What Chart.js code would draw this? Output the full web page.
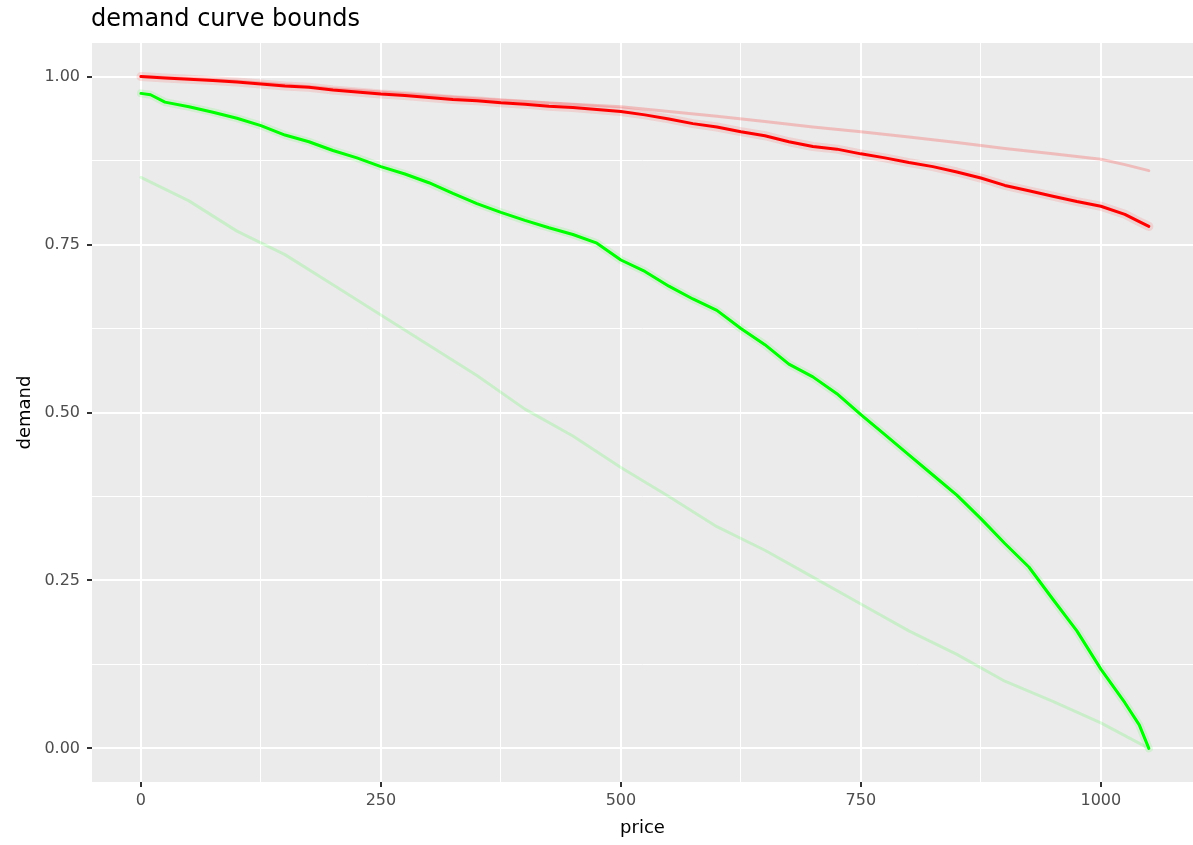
<!DOCTYPE html>
<html>
<head>
<meta charset="utf-8">
<script src="https://cdn.jsdelivr.net/npm/chart.js@4.4.1/dist/chart.umd.min.js"></script>
<style>
  html, body { margin: 0; padding: 0; background: #fff; }
  #wrap { width: 1193px; height: 845px; }
</style>
</head>
<body>
<div id="wrap"><canvas id="chart" width="1193" height="845"></canvas></div>
<script>
// demand curves (price -> demand)
var redPrice = [0, 25, 50, 75, 100, 125, 150, 175, 200, 225, 250, 275, 300, 325, 350, 375, 400, 425, 450, 475, 500,
    525, 550, 575, 600, 625, 650, 675, 700, 725, 750, 775, 800, 825, 850, 875, 900, 925, 950, 975, 1000, 1025, 1040, 1050];
var redDemand = [1.000, 0.998, 0.996, 0.994, 0.992, 0.989, 0.986, 0.984, 0.980, 0.977, 0.974, 0.972, 0.969, 0.966, 0.964,
    0.961, 0.959, 0.956, 0.954, 0.951, 0.948, 0.943, 0.937, 0.930, 0.925, 0.918, 0.912, 0.903, 0.896, 0.892, 0.885,
    0.879, 0.872, 0.866, 0.858, 0.849, 0.838, 0.830, 0.822, 0.814, 0.807, 0.795, 0.784, 0.777];

var paleRedPrice = [0, 50, 100, 150, 200, 250, 300, 350, 400, 450, 500, 550, 600, 650, 700, 750, 800, 850, 900, 950, 1000, 1025, 1050];
var paleRedDemand = [1.000, 0.997, 0.993, 0.988, 0.982, 0.977, 0.972, 0.967, 0.963, 0.959, 0.955, 0.948, 0.941, 0.933,
    0.925, 0.918, 0.910, 0.902, 0.893, 0.885, 0.877, 0.869, 0.860];

var greenPrice = [0, 10, 25, 50, 75, 100, 125, 150, 175, 200, 225, 250, 275, 300, 325, 350, 375, 400, 425, 450, 475, 500,
    525, 550, 575, 600, 625, 650, 675, 700, 725, 750, 775, 800, 825, 850, 875, 900, 925, 950, 975, 1000, 1025, 1040, 1050];
var greenDemand = [0.975, 0.973, 0.962, 0.955, 0.947, 0.938, 0.927, 0.913, 0.903, 0.890, 0.879, 0.866, 0.855, 0.842,
    0.826, 0.811, 0.798, 0.786, 0.775, 0.765, 0.752, 0.727, 0.710, 0.688, 0.669, 0.652, 0.625, 0.601, 0.572, 0.553,
    0.528, 0.497, 0.467, 0.437, 0.407, 0.377, 0.342, 0.305, 0.270, 0.222, 0.175, 0.118, 0.068, 0.035, 0.000];

var paleGreenPrice = [0, 50, 100, 150, 200, 250, 300, 350, 400, 450, 500, 550, 600, 650, 700, 750, 800, 850, 900, 950, 1000, 1050];
var paleGreenDemand = [0.850, 0.815, 0.770, 0.735, 0.690, 0.645, 0.600, 0.555, 0.505, 0.465, 0.418, 0.375, 0.330,
    0.295, 0.255, 0.215, 0.175, 0.140, 0.100, 0.070, 0.038, 0.000];

// axis ticks
var xMajor = [0, 250, 500, 750, 1000];
var xMinor = [125, 375, 625, 875];
var yMajor = [0, 0.25, 0.5, 0.75, 1];
var yMinor = [0.125, 0.375, 0.625, 0.875];
var yLabels = ["0.00", "0.25", "0.50", "0.75", "1.00"];

var FONT = "'DejaVu Sans', Verdana, sans-serif";

function pts(xs, ys) {
    return xs.map(function (x, i) { return { x: x, y: ys[i] }; });
}

function setTicks(majors, minors) {
    return function (scale) {
        var all = majors.concat(minors).sort(function (a, b) { return a - b; });
        scale.ticks = all.map(function (v) { return { value: v }; });
    };
}

function isMajor(majors, v) {
    return majors.indexOf(v) !== -1;
}

// grey ggplot-like panel + title
var panelBg = {
    id: "panelBg",
    beforeDraw: function (chart) {
        var a = chart.chartArea, ctx = chart.ctx;
        ctx.save();
        ctx.fillStyle = "#EBEBEB";
        ctx.fillRect(a.left, a.top, a.right - a.left, a.bottom - a.top);
        ctx.restore();
    },
    afterDraw: function (chart) {
        var ctx = chart.ctx;
        ctx.save();
        ctx.fillStyle = "#000000";
        ctx.font = "24px " + FONT;
        ctx.textBaseline = "alphabetic";
        ctx.fillText("demand curve bounds", chart.chartArea.left - 1, 26);
        ctx.restore();
    }
};

var ctx = document.getElementById("chart").getContext("2d");
var chart = new Chart(ctx, {
    type: "line",
    data: {
        datasets: [
            {
                data: pts(redPrice, redDemand),
                borderColor: "#FF0000",
                borderWidth: 3,
                order: 1
            },
            {
                data: pts(redPrice, redDemand),
                borderColor: "rgba(255, 60, 60, 0.15)",
                borderWidth: 9,
                order: 5
            },
            {
                data: pts(greenPrice, greenDemand),
                borderColor: "#00FF00",
                borderWidth: 3,
                order: 2
            },
            {
                data: pts(greenPrice, greenDemand),
                borderColor: "rgba(60, 255, 60, 0.15)",
                borderWidth: 8,
                order: 6
            },
            {
                data: pts(paleRedPrice, paleRedDemand),
                borderColor: "rgba(255, 0, 0, 0.2)",
                borderWidth: 3,
                order: 3
            },
            {
                data: pts(paleGreenPrice, paleGreenDemand),
                borderColor: "rgba(0, 255, 0, 0.14)",
                borderWidth: 3,
                order: 4
            }
        ]
    },
    options: {
        responsive: false,
        animation: false,
        layout: { padding: { top: 43, left: 0, right: 0, bottom: 0 } },
        elements: {
            point: { radius: 0 },
            line: { tension: 0, borderCapStyle: "round", borderJoinStyle: "round" }
        },
        plugins: {
            legend: { display: false },
            title: { display: false },
            tooltip: { enabled: false }
        },
        scales: {
            x: {
                type: "linear",
                min: -51,
                max: 1096,
                afterBuildTicks: setTicks(xMajor, xMinor),
                afterFit: function (scale) { scale.height = 63; },
                border: { display: false },
                grid: {
                    color: "#FFFFFF",
                    lineWidth: function (c) { return isMajor(xMajor, c.tick.value) ? 2 : 1; },
                    tickColor: function (c) { return isMajor(xMajor, c.tick.value) ? "#333333" : "rgba(0,0,0,0)"; },
                    tickLength: 5,
                    drawTicks: true
                },
                ticks: {
                    autoSkip: false,
                    maxRotation: 0,
                    padding: 4,
                    color: "#4D4D4D",
                    font: { family: FONT, size: 16 },
                    callback: function (v) { return isMajor(xMajor, v) ? String(v) : ""; }
                },
                title: {
                    display: true,
                    text: "price",
                    color: "#000000",
                    font: { family: FONT, size: 18 },
                    padding: { top: 0, bottom: 6 }
                }
            },
            y: {
                type: "linear",
                min: -0.05,
                max: 1.05,
                afterBuildTicks: setTicks(yMajor, yMinor),
                afterFit: function (scale) { scale.width = 92; },
                border: { display: false },
                grid: {
                    color: "#FFFFFF",
                    lineWidth: function (c) { return isMajor(yMajor, c.tick.value) ? 2 : 1; },
                    tickColor: function (c) { return isMajor(yMajor, c.tick.value) ? "#333333" : "rgba(0,0,0,0)"; },
                    tickLength: 5,
                    drawTicks: true
                },
                ticks: {
                    autoSkip: false,
                    padding: 7,
                    color: "#4D4D4D",
                    font: { family: FONT, size: 16 },
                    callback: function (v) {
                        var i = yMajor.indexOf(v);
                        return i !== -1 ? yLabels[i] : "";
                    }
                },
                title: {
                    display: true,
                    text: "demand",
                    color: "#000000",
                    font: { family: FONT, size: 18 },
                    padding: { top: 15, bottom: 0 }
                }
            }
        }
    },
    plugins: [panelBg]
});
</script>
</body>
</html>
